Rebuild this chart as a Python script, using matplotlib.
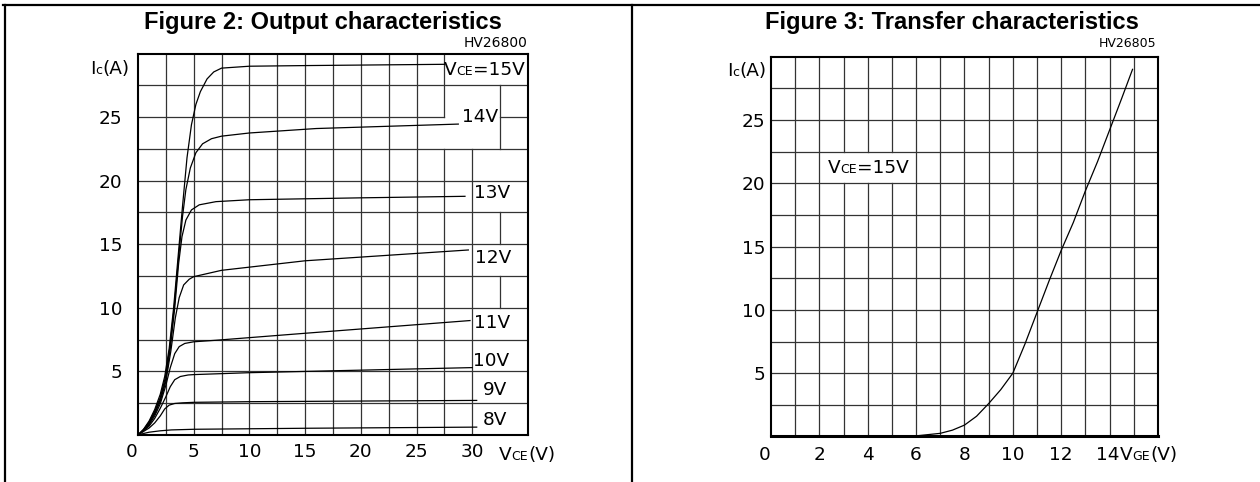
import numpy as np
import matplotlib
matplotlib.use("Agg")
import matplotlib.pyplot as plt
from matplotlib.lines import Line2D
from matplotlib.offsetbox import TextArea, HPacker, AnnotationBbox


FONTE = "DejaVu Sans"
TAM = 13.3
TAM_PEQ = 9

# Figure 2 - curvas de saida Ic(Vce), uma por Vge
rotulos_vge = ["14V", "13V", "12V", "11V", "10V", "9V", "8V"]

vce_15 = [0, 0.5, 1, 1.5, 2, 2.4, 2.8, 3.2, 3.6, 4.0, 4.4, 4.8, 5.2, 5.6, 6.2, 6.8, 7.5, 10, 15, 27.5]
ic_15 = [0, 0.45, 1.1, 2.0, 3.2, 4.6, 6.8, 10, 14, 18, 21.8, 24.4, 26.0, 27.0, 28.0, 28.55, 28.85, 29.0, 29.05, 29.15]

vce_14 = [0, 0.5, 1, 1.5, 2, 2.45, 2.85, 3.25, 3.65, 4.0, 4.3, 4.7, 5.2, 5.8, 6.6, 7.5, 10, 16, 28.75]
ic_14 = [0, 0.42, 1.0, 1.85, 2.95, 4.5, 6.8, 10, 14, 17.2, 19.3, 21.0, 22.2, 22.9, 23.3, 23.5, 23.75, 24.1, 24.45]

vce_13 = [0, 0.5, 1, 1.5, 2, 2.5, 2.9, 3.3, 3.65, 3.95, 4.3, 4.8, 5.5, 7, 10, 20, 29.35]
ic_13 = [0, 0.4, 0.95, 1.75, 2.8, 4.4, 6.8, 10, 13.5, 15.6, 16.9, 17.7, 18.1, 18.35, 18.5, 18.65, 18.77]

vce_12 = [0, 0.5, 1, 1.5, 2, 2.5, 2.95, 3.35, 3.7, 4.1, 4.6, 5, 7.5, 15, 29.65]
ic_12 = [0, 0.38, 0.9, 1.65, 2.65, 4.2, 6.6, 9.2, 10.8, 11.8, 12.25, 12.45, 12.95, 13.7, 14.55]

vce_11 = [0, 0.5, 1, 1.5, 2, 2.5, 2.9, 3.3, 3.7, 4.2, 5, 7, 15, 29.8]
ic_11 = [0, 0.36, 0.8, 1.5, 2.45, 3.9, 5.3, 6.4, 6.95, 7.2, 7.33, 7.45, 8.0, 9.0]

vce_10 = [0, 0.5, 1, 1.5, 2, 2.5, 2.9, 3.3, 3.8, 4.5, 5, 10, 20, 30]
ic_10 = [0, 0.33, 0.7, 1.3, 2.1, 3.0, 3.8, 4.35, 4.6, 4.72, 4.75, 4.9, 5.1, 5.3]

vce_9 = [0, 0.5, 1, 1.5, 2, 2.4, 2.8, 3.3, 4, 5, 10, 20, 30.4]
ic_9 = [0, 0.28, 0.55, 0.95, 1.5, 2.05, 2.35, 2.48, 2.53, 2.57, 2.62, 2.67, 2.72]

vce_8 = [0, 0.5, 1, 2, 3, 5, 15, 30.4]
ic_8 = [0, 0.12, 0.22, 0.33, 0.4, 0.45, 0.53, 0.62]

ticks_x_saida = [0, 5, 10, 15, 20, 25, 30]
ticks_y = [5, 10, 15, 20, 25]

# Figure 3 - transferencia Ic(Vge) com Vce = 15V
vge_transf = [5, 6, 7, 7.5, 8, 8.5, 9, 9.5, 10, 10.5, 11, 11.5, 12, 12.5, 13, 13.5, 14, 14.5, 14.95]
ic_transf = [0, 0.05, 0.25, 0.5, 0.9, 1.6, 2.6, 3.7, 5.0, 7.3, 9.8, 12.3, 14.7, 16.9, 19.4, 21.7, 24.2, 26.7, 29.0]

ticks_x_transf = [0, 2, 4, 6, 8, 10, 12]


def texto_composto(ax, partes, xy, alinhamento=(0.5, 0.5), desloc=(0, 0),
                   coords="data"):
    filhos = [TextArea(t, textprops=dict(fontsize=s, family=FONTE)) for t, s in partes]
    caixa = HPacker(children=filhos, align="baseline", pad=0, sep=0)
    ab = AnnotationBbox(caixa, xy, xycoords=coords, xybox=desloc,
                        boxcoords="offset points", frameon=False,
                        box_alignment=alinhamento, pad=0)
    ab.set_zorder(5)
    ax.add_artist(ab)


def tirar_lacunas(lo, hi, lacunas):
    trechos = [(lo, hi)]
    for a, b in lacunas:
        novos = []
        for c, d in trechos:
            if b <= c or a >= d:
                novos.append((c, d))
                continue
            if a > c:
                novos.append((c, a))
            if b < d:
                novos.append((b, d))
        trechos = novos
    return trechos


def desenhar_grade(ax, xs, ys, xlim, ylim, lac_v=None, lac_h=None):
    lac_v = lac_v or {}
    lac_h = lac_h or {}
    for x in xs:
        for a, b in tirar_lacunas(ylim[0], ylim[1], lac_v.get(x, [])):
            ax.plot([x, x], [a, b], color="0.2", lw=0.9, zorder=1)
    for y in ys:
        for a, b in tirar_lacunas(xlim[0], xlim[1], lac_h.get(y, [])):
            ax.plot([a, b], [y, y], color="0.2", lw=0.9, zorder=1)


def preparar_eixo(ax, xlim, ylim, xticks, pad_x, pad_y):
    ax.set_xlim(*xlim)
    ax.set_ylim(*ylim)
    ax.set_xticks(xticks)
    ax.set_xticklabels([str(t) for t in xticks])
    ax.set_yticks(ticks_y)
    ax.set_yticklabels([str(t) for t in ticks_y])
    ax.tick_params(length=0, labelsize=TAM)
    ax.tick_params(axis="x", pad=pad_x)
    ax.tick_params(axis="y", pad=pad_y)
    for lab in ax.get_xticklabels() + ax.get_yticklabels():
        lab.set_family(FONTE)
    # o "0" fica um pouco a esquerda do eixo, como no original
    ax.get_xticklabels()[0].set_horizontalalignment("right")
    for sp in ax.spines.values():
        sp.set_linewidth(1.5)
        sp.set_zorder(4)


def plotar_saida(ax):
    xs = list(np.arange(2.5, 35, 2.5))
    ys = list(np.arange(2.5, 30, 2.5))
    lac_v = {27.5: [(22.5, 25.0)],
             30.0: [(22.5, 30.0)],
             32.5: [(27.5, 30.0), (17.5, 22.5), (12.5, 15.0), (0.0, 10.0)]}
    lac_h = {25.0: [(27.5, 32.5)]}
    desenhar_grade(ax, xs, ys, (0, 35), (0, 30), lac_v, lac_h)

    curvas = [(vce_15, ic_15), (vce_14, ic_14), (vce_13, ic_13), (vce_12, ic_12),
              (vce_11, ic_11), (vce_10, ic_10), (vce_9, ic_9), (vce_8, ic_8)]
    for vx, iy in curvas:
        ax.plot(vx, iy, color="black", lw=0.9, zorder=3)

    preparar_eixo(ax, (0, 35), (0, 30), ticks_x_saida, pad_x=5.5, pad_y=11)

    pos_rotulos = [(30.7, 25.0), (31.8, 19.0), (31.9, 13.9), (31.8, 8.8),
                   (31.7, 5.8), (32.0, 3.5), (32.0, 1.2)]
    for rot, (px, py) in zip(rotulos_vge, pos_rotulos):
        ax.text(px, py, rot, fontsize=TAM, family=FONTE, ha="center",
                va="center", zorder=5)

    texto_composto(ax, [("V", TAM), ("CE", TAM_PEQ), ("=15V", TAM)], (31.1, 28.7))
    texto_composto(ax, [("I", TAM), ("c", TAM_PEQ), ("(A)", TAM)], (0, 28.8),
                   alinhamento=(1, 0.5), desloc=(-6, 0))
    texto_composto(ax, [("V", TAM), ("CE", TAM_PEQ), ("(V)", TAM)], (34.9, 0),
                   desloc=(0, -14.5), coords=("data", "axes fraction"))


def plotar_transferencia(ax):
    xs = list(range(1, 16))
    ys = list(np.arange(2.5, 30, 2.5))
    lac_v = {3: [(20.0, 22.5)], 4: [(20.0, 22.5)], 5: [(20.0, 22.5)]}
    desenhar_grade(ax, xs, ys, (0, 16), (0, 30), lac_v)

    ax.plot(vge_transf, ic_transf, color="black", lw=0.9, zorder=3)

    preparar_eixo(ax, (0, 16), (0, 30), ticks_x_transf, pad_x=7, pad_y=4)
    ax.spines["bottom"].set_linewidth(2.2)

    texto_composto(ax, [("V", TAM), ("CE", TAM_PEQ), ("=15V", TAM)], (4.03, 21.2))
    texto_composto(ax, [("I", TAM), ("c", TAM_PEQ), ("(A)", TAM)], (0, 28.9),
                   alinhamento=(1, 0.5), desloc=(-3, 0))
    texto_composto(ax, [("14", TAM), ("V", TAM), ("GE", TAM_PEQ), ("(V)", TAM)],
                   (13.45, 0), alinhamento=(0, 0.5), desloc=(0, -13.3),
                   coords=("data", "axes fraction"))


def main():
    fig = plt.figure(figsize=(12.6, 4.82), dpi=100)

    ax1 = fig.add_axes([0.1095, 0.0975, 0.3095, 0.7915])
    ax2 = fig.add_axes([0.6119, 0.0944, 0.3071, 0.788])

    plotar_saida(ax1)
    plotar_transferencia(ax2)

    # moldura da pagina
    fig.add_artist(Line2D([0.0024, 1.0], [0.9886, 0.9886], color="black", lw=1.6))
    fig.add_artist(Line2D([0.0036, 0.0036], [0.0, 0.9886], color="black", lw=1.6))
    fig.add_artist(Line2D([0.5016, 0.5016], [0.0, 0.9886], color="black", lw=1.6))

    fig.text(0.2563, 0.953, "Figure 2: Output characteristics", fontsize=17,
             fontweight="bold", family="Liberation Sans", ha="center", va="center")
    fig.text(0.7556, 0.953, "Figure 3: Transfer characteristics", fontsize=17,
             fontweight="bold", family="Liberation Sans", ha="center", va="center")
    fig.text(0.419, 0.910, "HV26800", fontsize=10, family=FONTE,
             ha="right", va="center")
    fig.text(0.9175, 0.910, "HV26805", fontsize=9, family=FONTE,
             ha="right", va="center")

    fig.savefig("out.png", dpi=100)


if __name__ == "__main__":
    main()
